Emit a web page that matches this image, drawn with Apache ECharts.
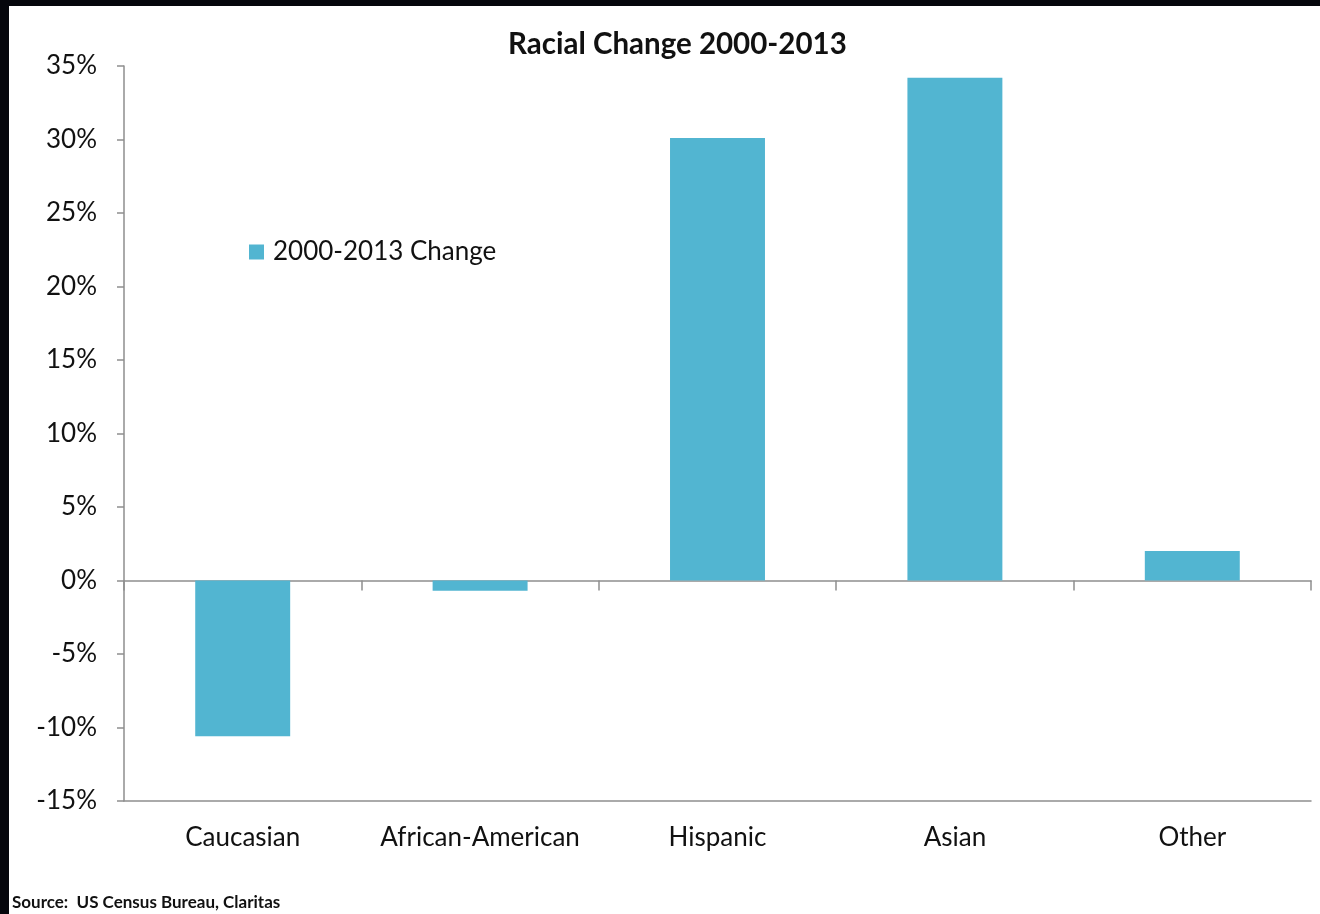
<!DOCTYPE html>
<html>
<head>
<meta charset="utf-8">
<title>Racial Change 2000-2013</title>
<script src="https://cdn.jsdelivr.net/npm/echarts@6/dist/echarts.min.js"></script>
<style>
  html, body { margin: 0; padding: 0; background: #05060c; overflow: hidden; }
  #main { position: absolute; left: 9px; top: 6px; width: 1311px; height: 908px; background: #fff; }
</style>
</head>
<body>
<div id="main"></div>
<script>
// data
const categories = ['Caucasian', 'African-American', 'Hispanic', 'Asian', 'Other'];
const changeValues = [-10.6, -0.7, 30.1, 34.2, 2.0];
const seriesName = '2000-2013 Change';

const font = 'Lato, "Open Sans", sans-serif';
const axisGray = '#8e8e8e';

const chart = echarts.init(document.getElementById('main'));
chart.setOption({
  backgroundColor: '#ffffff',
  animation: false,
  title: {
    text: 'Racial Change 2000-2013',
    left: 494,
    top: 18,
    textStyle: { fontFamily: font, fontSize: 29.5, fontWeight: 'bold', color: '#111' }
  },
  legend: {
    data: [seriesName],
    left: 235,
    top: 228,
    itemWidth: 15,
    itemHeight: 15,
    itemGap: 9,
    icon: 'rect',
    textStyle: { fontFamily: font, fontSize: 26, color: '#111', padding: [0, 0, 0, 4] }
  },
  grid: { left: 115, top: 60, right: 9, bottom: 113, containLabel: false },
  xAxis: [
    {
      type: 'category',
      data: categories,
      position: 'bottom',
      axisLine: { onZero: true, lineStyle: { color: axisGray, width: 1.5 } },
      axisTick: { show: true, length: 10, alignWithLabel: false, lineStyle: { color: axisGray, width: 1.5 } },
      axisLabel: { show: false },
      splitLine: { show: false }
    },
    {
      type: 'category',
      data: categories,
      position: 'bottom',
      axisLine: { onZero: false, lineStyle: { color: axisGray, width: 1.5 } },
      axisTick: { show: false },
      axisLabel: { show: true, interval: 0, margin: 24, fontFamily: font, fontSize: 26, color: '#111' },
      splitLine: { show: false }
    }
  ],
  yAxis: {
    type: 'value',
    min: -15,
    max: 35,
    interval: 5,
    axisLine: { show: true, lineStyle: { color: axisGray, width: 1.5 } },
    axisTick: { show: true, length: 7, lineStyle: { color: axisGray, width: 1.5 } },
    axisLabel: { formatter: '{value}%', margin: 27, fontFamily: font, fontSize: 26, color: '#111' },
    splitLine: { show: false }
  },
  series: [
    {
      name: seriesName,
      type: 'bar',
      xAxisIndex: 0,
      data: changeValues,
      barWidth: '40%',
      itemStyle: { color: '#52b5d1' }
    }
  ],
  graphic: [
    {
      type: 'text',
      left: 3,
      top: 888,
      style: { text: 'Source:  US Census Bureau, Claritas', fontFamily: font, fontSize: 17, fontWeight: 'bold', fill: '#111' }
    }
  ]
});
</script>
</body>
</html>
